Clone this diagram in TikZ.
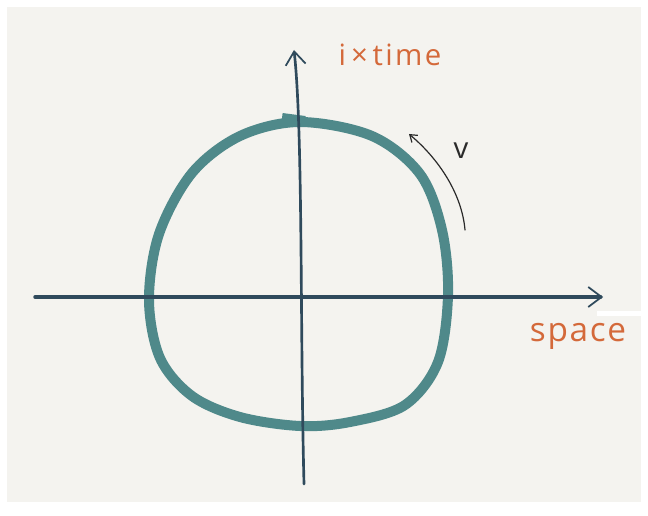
\documentclass[tikz,border=0pt]{standalone}
\usepackage{fontspec}
\setmainfont{Open Sans}
\usepackage{tikz}
\usetikzlibrary{arrows.meta}
\definecolor{cPaper}{HTML}{F4F3EF}
\definecolor{cTeal}{HTML}{4F898A}
\definecolor{cAxis}{HTML}{2F4A5C}
\definecolor{cOrange}{HTML}{D4693A}
\definecolor{cInk}{HTML}{2A2A2A}
\tikzset{
  axis/.style={cAxis, line width=2pt, line cap=round,
               -{Straight Barb[length=10pt, width=15pt, line width=1.3pt]}},
  oval/.style={cTeal, line width=7.5pt, line join=round},
  flow/.style={cInk, line width=0.9pt, line cap=round,
               -{Straight Barb[length=5pt, width=7pt]}},
  lbl/.style={cOrange, inner sep=0pt, font=\fontsize{22}{24}\selectfont\addfontfeature{LetterSpace=8}},
  vlbl/.style={cInk, inner sep=0pt, font=\fontsize{22}{24}\selectfont}
}

\begin{document}
\begin{tikzpicture}[x=0.75pt, y=-0.75pt]
\useasboundingbox (0,0) rectangle (648,516);
\fill[white] (0,0) rectangle (648,516);
\fill[cPaper] (7,7) rectangle (641,502);
\fill[white] (597,311) rectangle (648,316);
% the loop
\draw[oval] plot[smooth cycle, tension=0.55] coordinates {
  (300,122) (372,136) (420,174) (442,230) (448,295) (438,362) (405,405)
  (350,422) (300,426) (240,417) (192,396) (160,358) (149,300) (159,234)
  (192,173) (240,136)};
\draw[oval] (282,118) -- (305,121);
% axes
\coordinate (xL) at (35,297);
\coordinate (xR) at (603,297);
\coordinate (tB) at (304,484);
\coordinate (tT) at (294,50);
\draw[axis, line width=2.6pt] (xL) -- (xR);
\draw[axis] (tB) .. controls (300,330) and (303,130) .. (tT);
% labels
\node[lbl] (tlab) at (390,55) {i\,×\,time};
\node[lbl, font=\fontsize{25}{28}\selectfont\addfontfeature{LetterSpace=5}] (slab) at (578,336) {space};
\coordinate (vS) at (465,230);
\coordinate (vE) at (409,134);
\draw[flow] (vS) .. controls (462,195) and (440,160) .. (vE);
\node[vlbl] (vlab) at (461,151) {v};
\end{tikzpicture}
\end{document}
